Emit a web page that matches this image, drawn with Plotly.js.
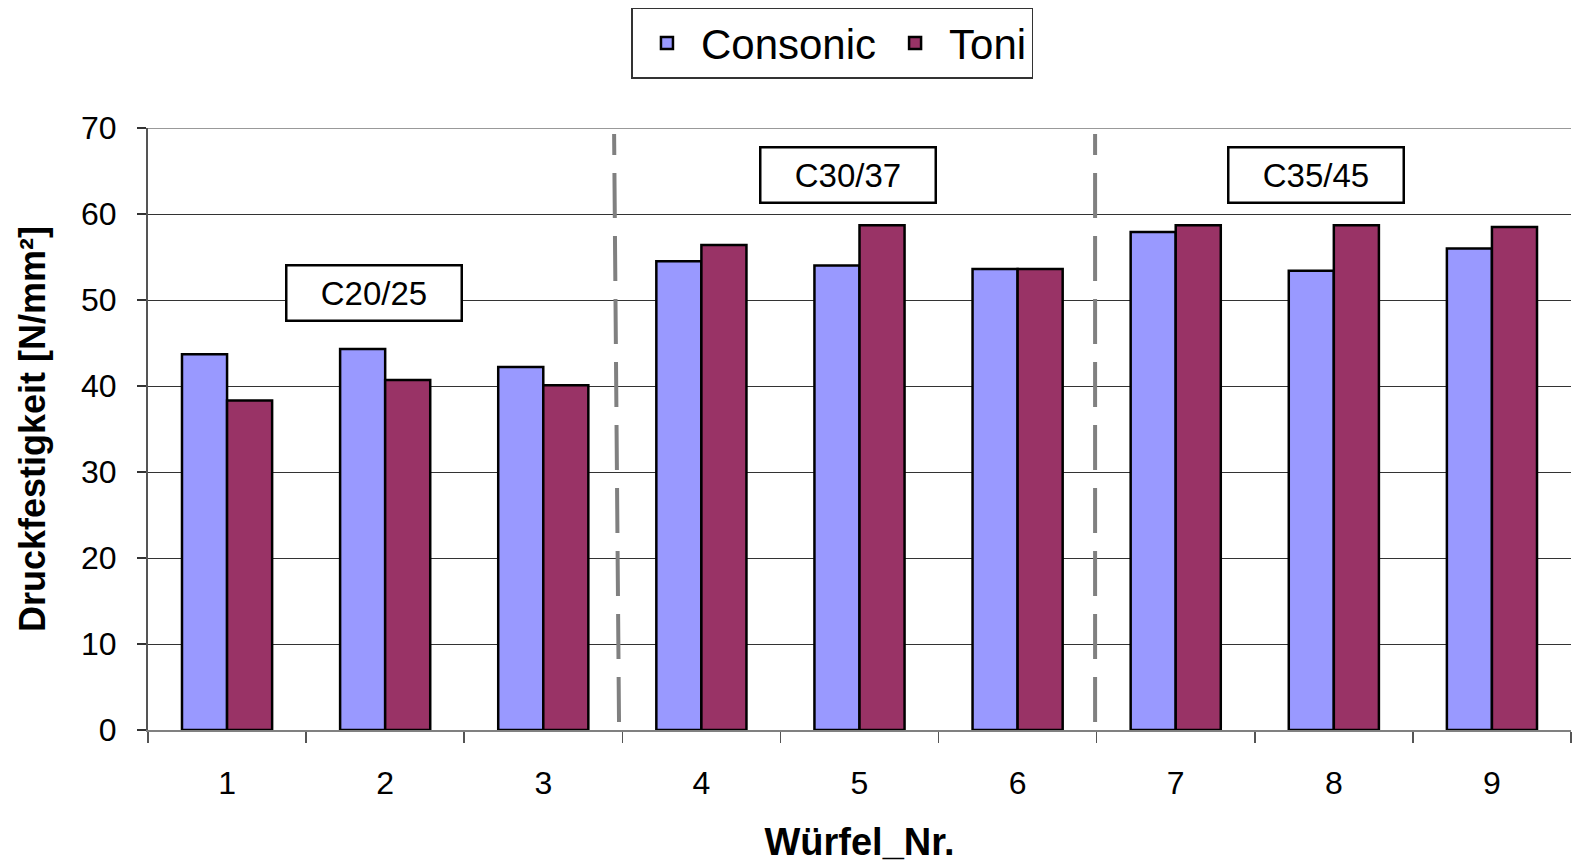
<!DOCTYPE html>
<html>
<head>
<meta charset="utf-8">
<script src="https://cdn.plot.ly/plotly-3.0.1.min.js"></script>
<style>html,body{margin:0;padding:0;background:#fff;}#chart{width:1573px;height:863px;}</style>
</head>
<body>
<div id="chart"></div>
<script>
const categories = ['1','2','3','4','5','6','7','8','9'];
const consonic = [43.7, 44.3, 42.2, 54.5, 54.0, 53.6, 57.9, 53.4, 56.0];
const toni = [38.3, 40.7, 40.1, 56.4, 58.7, 53.6, 58.7, 58.7, 58.5];
const seriesNames = ['Consonic', 'Toni'];
const classLabels = ['C20/25', 'C30/37', 'C35/45'];
const classLabelX = [0.927, 3.93, 6.885];
const classLabelY = [50.8, 64.5, 64.5];
const dividerBottomX = [2.479, 5.49];
const dividerTopX = [2.448, 5.49];

const FONT = 'Liberation Sans, Arial, sans-serif';

const traces = [
  {type:'bar', name:seriesNames[0], x:categories, y:consonic,
   marker:{color:'#9999FF', line:{color:'#000', width:2.5}}},
  {type:'bar', name:seriesNames[1], x:categories, y:toni,
   marker:{color:'#993366', line:{color:'#000', width:2.5}}}
];

const shapes = dividerTopX.map((xt, i) => ({
  type:'line', xref:'x', yref:'y',
  x0:dividerBottomX[i], y0:0.93, x1:xt, y1:69.3,
  line:{color:'#808080', width:4, dash:'45px,18px'}
}));
shapes.push({type:'line', xref:'paper', yref:'y', x0:0, x1:1, y0:70, y1:70,
  line:{color:'#999', width:2}, layer:'below'});

const annotations = classLabels.map((t, i) => ({
  text:t, xref:'x', yref:'y', x:classLabelX[i], y:classLabelY[i],
  showarrow:false, font:{family:FONT, size:33, color:'#000'},
  bgcolor:'#fff', bordercolor:'#000', borderwidth:2.5, borderpad:0,
  width:173, height:53, xanchor:'center', yanchor:'middle'
}));

const layout = {
  width:1573, height:863,
  margin:{l:148, r:2, t:128, b:133},
  paper_bgcolor:'#fff', plot_bgcolor:'#fff',
  font:{family:FONT, color:'#000'},
  barmode:'group', bargap:0.43, bargroupgap:0,
  showlegend:true,
  legend:{orientation:'h', x:0.481, xanchor:'center', y:1.2, yanchor:'top',
    bordercolor:'#333', borderwidth:1.5, bgcolor:'#fff', itemwidth:58,
    font:{family:FONT, size:42, color:'#000'}, traceorder:'normal'},
  xaxis:{type:'category', tickson:'boundaries', ticks:'outside', ticklen:11, tickcolor:'#555', tickwidth:1.5,
    showline:true, linecolor:'#808080', linewidth:2, showgrid:false,
    tickfont:{family:FONT, size:32, color:'#000'}, ticklabelstandoff:24,
    title:{text:'<b>Würfel_Nr.</b>', font:{family:FONT, size:38, color:'#000'}, standoff:34}},
  yaxis:{range:[0,70], dtick:10, ticks:'outside', ticklen:9, tickcolor:'#333', tickwidth:1.5,
    showline:true, linecolor:'#555', linewidth:2,
    showgrid:true, gridcolor:'#333', gridwidth:1, zeroline:false,
    tickfont:{family:FONT, size:32, color:'#000'}, ticklabelstandoff:14,
    title:{text:'<b>Druckfestigkeit [N/mm²]</b>', font:{family:FONT, size:36, color:'#000'}, standoff:24}},
  shapes:shapes,
  annotations:annotations
};

Plotly.newPlot('chart', traces, layout, {displayModeBar:false, staticPlot:true});
</script>
</body>
</html>
